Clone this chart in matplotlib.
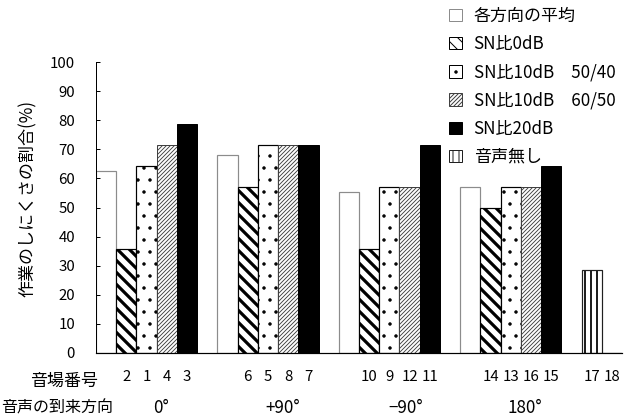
import matplotlib
matplotlib.use("Agg")
import matplotlib.pyplot as plt
import matplotlib.transforms as mtransforms
from matplotlib.patches import Patch

plt.rcParams['font.family'] = ['Noto Sans CJK JP', 'DejaVu Sans']

# values (%) per direction group: 0, +90, -90, 180
avgAll = [62.5, 67.9, 55.4, 57.1]
sn0dB = [35.7, 57.1, 35.7, 50.0]
sn10dB_5040 = [64.3, 71.4, 57.1, 57.1]
sn10dB_6050 = [71.4, 71.4, 57.1, 57.1]
sn20dB = [78.6, 71.4, 71.4, 64.3]
noVoice = [28.6, 0.0]

fieldNumbers = ['2', '1', '4', '3', '6', '5', '8', '7', '10', '9', '12', '11',
                '14', '13', '16', '15', '17', '18']
directions = ['0°', '+90°', '−90°', '180°']
legendLabels = ['各方向の平均', 'SN比0dB', 'SN比10dB　50/40',
                'SN比10dB　60/50', 'SN比20dB', '音声無し']

W, H = 632, 419
DPI = 72
fig = plt.figure(figsize=(W / DPI, H / DPI), dpi=DPI)
ax = fig.add_axes([96 / W, (H - 353) / H, 526 / W, 291 / H])


def setHatchLw(artist, lw):
    if hasattr(artist, 'set_hatch_linewidth'):
        artist.set_hatch_linewidth(lw)


series = [
    (avgAll, dict(color='white', edgecolor='#8c8c8c', linewidth=1.2), None, 1),
    (sn0dB, dict(color='white', edgecolor='black', linewidth=1.2), '\\\\', 3.2),
    (sn10dB_5040, dict(color='white', edgecolor='black', linewidth=1.2), '.', 1.0),
    (sn10dB_6050, dict(color='white', edgecolor='#404040', linewidth=1.0), '//////', 0.9),
    (sn20dB, dict(color='black', edgecolor='black', linewidth=1.0), None, 1),
]

handles = []
for k, (vals, style, hatch, hlw) in enumerate(series):
    xs = [6 * g + k for g in range(len(vals))]
    with plt.rc_context({'hatch.linewidth': hlw}):
        bars = ax.bar(xs, vals, width=1.0, hatch=hatch, **style)
        for b in bars:
            setHatchLw(b, hlw)
        h = Patch(facecolor=style['color'], edgecolor=style['edgecolor'],
                  hatch=hatch, linewidth=1.0)
        setHatchLw(h, hlw)
    handles.append(h)

with plt.rc_context({'hatch.linewidth': 2.0}):
    silentBars = ax.bar([24, 25], noVoice, width=1.0, color='white',
                        edgecolor='#202020', linewidth=1.2, hatch='||')
    for b in silentBars:
        setHatchLw(b, 2.0)
    hs = Patch(facecolor='white', edgecolor='#202020', hatch='||', linewidth=1.0)
    setHatchLw(hs, 2.0)
handles.append(hs)

ax.set_xlim(-0.5, 25.5)
ax.set_ylim(0, 100)
ax.set_yticks(range(0, 101, 10))
ax.tick_params(axis='y', direction='in', length=4, width=1, pad=21, labelsize=15)

tickPos = [6 * g + k for g in range(4) for k in range(1, 5)] + [24, 25]
ax.set_xticks(tickPos)
ax.set_xticklabels(fieldNumbers)
ax.tick_params(axis='x', length=0, pad=17, labelsize=15)

for s in ['top', 'right']:
    ax.spines[s].set_visible(False)
ax.spines['left'].set_linewidth(1.0)
ax.spines['bottom'].set_linewidth(1.2)

fig.text(28 / W, 1 - 198 / H, '作業のしにくさの割合(%)', rotation=90,
         ha='center', va='center', fontsize=17)
fig.text(64 / W, 1 - 381 / H, '音場番号', ha='center', va='center', fontsize=17)
fig.text(1 / W, 1 - 408 / H, '音声の到来方向', ha='left', va='center', fontsize=16)

dirTrans = mtransforms.blended_transform_factory(ax.transData, fig.transFigure)
dirPos = [2.7, 8.75, 14.8, 20.7]
for x, lab in zip(dirPos, directions):
    ax.text(x, 1 - 408 / H, lab, transform=dirTrans,
            ha='center', va='center', fontsize=17)

fig.legend(handles, legendLabels, loc='upper left',
           bbox_to_anchor=(449 / W, 1 - 7 / H), frameon=False, fontsize=17,
           handlelength=0.75, handleheight=0.75, handletextpad=0.7,
           labelspacing=0.6, borderpad=0, borderaxespad=0)

fig.savefig('out.png', dpi=DPI)
